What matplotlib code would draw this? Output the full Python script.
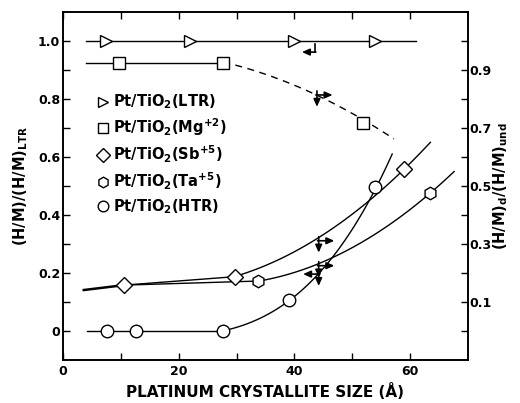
import matplotlib
matplotlib.use("Agg")
import matplotlib.pyplot as plt
import numpy as np

plt.rcParams['font.family'] = ['DejaVu Sans']
plt.rcParams['font.weight'] = 'bold'
plt.rcParams['axes.labelweight'] = 'bold'
plt.rcParams['mathtext.fontset'] = 'custom'
plt.rcParams['mathtext.rm'] = 'DejaVu Sans:bold'
plt.rcParams['mathtext.it'] = 'DejaVu Sans:bold'
plt.rcParams['mathtext.bf'] = 'DejaVu Sans:bold'

# measured points (crystallite size in A, H/M ratio)
ltr_x = [7.5, 22, 40, 54]
ltr_y = [1.0, 1.0, 1.0, 1.0]
mg_x = [9.7, 27.7, 51.8]
mg_y = [0.925, 0.925, 0.719]
sb_x = [10.6, 29.7, 58.9]
sb_y = [0.158, 0.187, 0.557]
ta_x = [33.7, 63.5]
ta_y = [0.172, 0.477]
htr_x = [7.7, 12.7, 27.7, 39.0, 54.0]
htr_y = [0.0, 0.0, 0.0, 0.105, 0.498]

# hand drawn trend lines
ltr_line_x = [4.0, 61.0]
ltr_line_y = [1.0, 1.0]
mg_line_x = [4.0, 27.7]
mg_line_y = [0.925, 0.925]
mg_dash_x = [27.7, 33.8, 43.8, 51.8, 57.2]
mg_dash_y = [0.925, 0.897, 0.818, 0.719, 0.668]
low_line_x = [3.6, 10.6]
low_line_y = [0.141, 0.158]
sb_line_x = [10.6, 29.7]
sb_line_y = [0.158, 0.187]
sb_curve_x = [29.7, 32.1, 44.2, 54.0, 58.9, 63.5]
sb_curve_y = [0.187, 0.206, 0.315, 0.475, 0.557, 0.648]
ta_line_x = [10.6, 33.7]
ta_line_y = [0.158, 0.172]
ta_curve_x = [33.7, 44.2, 47.1, 63.5, 67.6]
ta_curve_y = [0.172, 0.229, 0.26, 0.477, 0.549]
htr_line_x = [4.2, 27.7]
htr_line_y = [0.0, 0.0]
htr_curve_x = [27.7, 33.8, 39.0, 44.2, 47.1, 54.0, 56.9]
htr_curve_y = [0.0, 0.041, 0.105, 0.2, 0.26, 0.498, 0.606]

# axis indicator arrows: (x, y, which axis)
arrows = [(44.2, 0.315, 'right'), (44.2, 0.229, 'right'), (43.9, 0.818, 'right'),
          (44.2, 0.2, 'left')]


def smooth(ax, xs, ys, deg, **kw):
    c = np.polyfit(xs, ys, deg)
    xx = np.linspace(xs[0], xs[-1], 80)
    ax.plot(xx, np.polyval(c, xx), **kw)


fig = plt.figure(figsize=(5.2, 4.03), dpi=100)
ax = fig.add_axes([0.121, 0.107, 0.779, 0.863])
lw = 1.0
line_kw = dict(color='black', lw=lw)

ax.plot(ltr_line_x, ltr_line_y, **line_kw)
ax.plot(mg_line_x, mg_line_y, **line_kw)
smooth(ax, mg_dash_x, mg_dash_y, 2, color='black', lw=lw, ls=(0, (5, 4)))
ax.plot(low_line_x, low_line_y, color='black', lw=1.8)
ax.plot(sb_line_x, sb_line_y, **line_kw)
smooth(ax, sb_curve_x, sb_curve_y, 2, **line_kw)
ax.plot(ta_line_x, ta_line_y, **line_kw)
smooth(ax, ta_curve_x, ta_curve_y, 2, **line_kw)
ax.plot(htr_line_x, htr_line_y, **line_kw)
smooth(ax, htr_curve_x, htr_curve_y, 3, **line_kw)

mk = dict(ls='none', mfc='white', mec='black', mew=1.0, zorder=3)
h1, = ax.plot(ltr_x, ltr_y, marker='>', ms=8, label=r'Pt/TiO$_\mathrm{2}$(LTR)', **mk)
h2, = ax.plot(mg_x, mg_y, marker='s', ms=8, label=r'Pt/TiO$_\mathrm{2}$(Mg$^\mathrm{+2}$)', **mk)
h3, = ax.plot(sb_x, sb_y, marker='D', ms=8, label=r'Pt/TiO$_\mathrm{2}$(Sb$^\mathrm{+5}$)', **mk)
h4, = ax.plot(ta_x, ta_y, marker='h', ms=9, label=r'Pt/TiO$_\mathrm{2}$(Ta$^\mathrm{+5}$)', **mk)
h5, = ax.plot(htr_x, htr_y, marker='o', ms=9, label=r'Pt/TiO$_\mathrm{2}$(HTR)', **mk)

arrow_kw = dict(arrowstyle='-|>,head_length=0.45,head_width=0.2', color='black',
                lw=1.2, shrinkA=0, shrinkB=0)
for x, y, side in arrows:
    if side == 'right':
        ax.annotate('', xy=(x + 2.7, y - 0.004), xytext=(x - 0.2, y - 0.004),
                    arrowprops=arrow_kw)
    else:
        ax.annotate('', xy=(x - 2.7, y - 0.004), xytext=(x + 0.2, y - 0.004),
                    arrowprops=arrow_kw)
    ax.annotate('', xy=(x, y - 0.045), xytext=(x, y + 0.01), arrowprops=arrow_kw)
# LTR line -> left axis
ax.plot([43.6, 43.6], [0.99, 0.962], color='black', lw=1.2)
ax.annotate('', xy=(41.3, 0.962), xytext=(43.7, 0.962), arrowprops=arrow_kw)

ax.set_xlim(0, 70)
ax.set_ylim(-0.1, 1.1)
ax.set_xticks([0, 20, 40, 60])
ax.set_xticks([10, 30, 50], minor=True)
ax.set_yticks([0, 0.2, 0.4, 0.6, 0.8, 1.0])
ax.set_yticklabels(['0', '0.2', '0.4', '0.6', '0.8', '1.0'])
ax.set_yticks([0.1, 0.3, 0.5, 0.7, 0.9], minor=True)
ax.tick_params(which='both', direction='in', length=5, width=1, top=True,
               labelsize=9, pad=2)
ax.tick_params(axis='x', pad=4)

ax2 = ax.twinx()
ax2.set_ylim(-0.1, 1.1)
ax2.set_yticks([0.1, 0.3, 0.5, 0.7, 0.9])
ax2.set_yticks([0, 0.2, 0.4, 0.6, 0.8, 1.0], minor=True)
ax2.tick_params(which='both', direction='in', length=5, width=1,
                labelsize=9, pad=1)

for a in (ax, ax2):
    for s in a.spines.values():
        s.set_linewidth(1.2)

ax.set_xlabel('PLATINUM CRYSTALLITE SIZE (Å)', fontsize=11, labelpad=3)
ax.set_ylabel(r'(H/M)/(H/M)$_\mathrm{LTR}$', fontsize=10.5, labelpad=6)
ax2.set_ylabel(r'(H/M)$_\mathrm{d}$/(H/M)$_\mathrm{und}$', fontsize=10.5, labelpad=0)

ax.legend(handles=[h1, h2, h3, h4, h5], loc='upper left', bbox_to_anchor=(0.085, 0.768),
          frameon=False, handlelength=0.8, handletextpad=0.3, labelspacing=0.36,
          fontsize=10.5, markerscale=0.85, borderpad=0, borderaxespad=0)

fig.savefig('out.png', dpi=100)
